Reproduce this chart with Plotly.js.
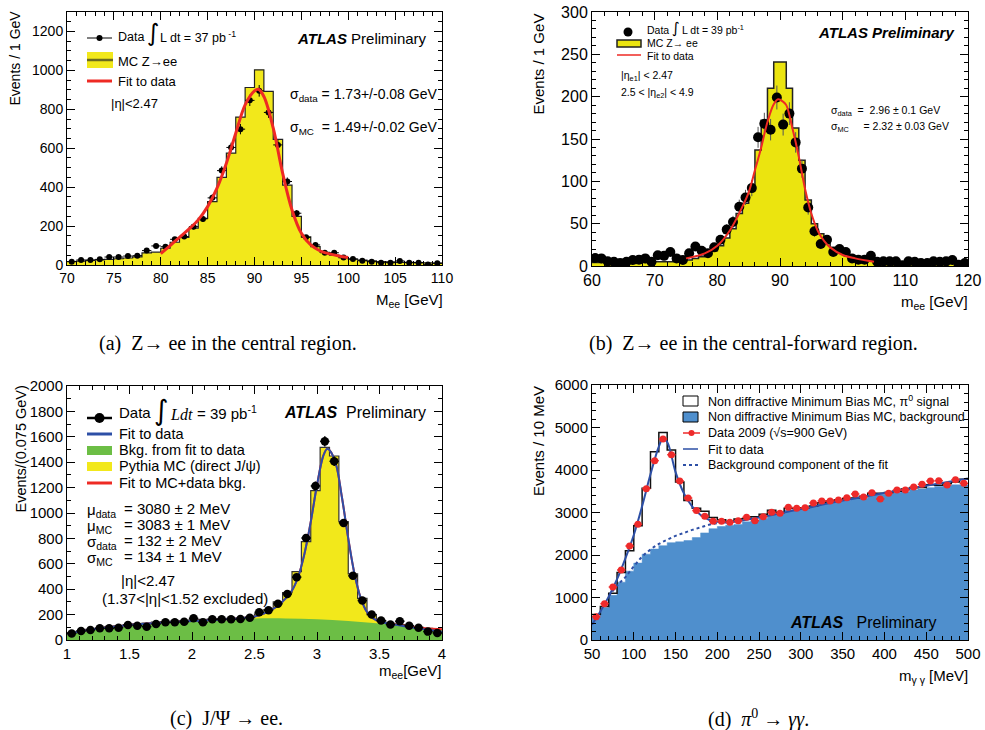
<!DOCTYPE html>
<html><head><meta charset="utf-8">
<script src="https://cdn.plot.ly/plotly-3.0.1.min.js"></script>
<style>html,body{margin:0;padding:0;background:#fff}</style>
</head><body><div id="chart" style="width:985px;height:730px"></div>
<script>
// ---------------- DATA ----------------
// (a) Z->ee central, 1 GeV bins from 70 to 110
const aBinStart = 70, aBinWidth = 1;
const aMC = [18,20,23,26,29,32,36,42,62,66, 86,117,142,189,240,326,450,575,760,912, 1003,892,645,410,250,145,94,65,51,38, 30,25,21,18,16,14,13,12,11,10];
const aData = [17,26,26,29,41,41,46,48,74,98, 94,132,146,197,237,345,485,604,698,846, 895,784,617,429,266,142,103,63,63,38, 31,22,17,12,12,21,12,12,3,9];
const aFitX = [80,81,82,83,84,85,86,87,88,89,90,90.4,91,92,93,94,95,96,97,98,99,100];
const aFitY = [58,100,142,184,232,300,395,523,677,823,895,903,866,703,472,283,163,103,72,57,46,38];

// (b) Z->ee central-forward, 1 GeV bins from 60 to 120
const bBinStart = 60, bBinWidth = 1;
const bMC = [4,4,4,3,3,3,3,4,4,4,5,5,5,6,6, 7,9,11,14,18,24,33,44,62,74,95,137,172,210,241,241,210,163,125,78,50,38,30,22,17,13,10,8,7,6,5, 4,4,4,4,3,3,3,3,3,3,3,3,3,3];
const bData = [9.4,9,5.5,5,3.5,5,7,7.5,9,5, 12.6,12,16.5,9,7,15,23,18,15,22, 31,43,52,70,81,92,152,168,161,199, 167,180,146,115,69,41,26,31,16.5,20, 16.5,9,7.5,7.5,12,5,5.5,5.5,5.5,1, 5.5,5,3.5,3.5,5.5,5,5.5,7,1.5,3.5];
const bFitX = [75,78,80,82,84,85,86,87,88,89,89.7,90.5,91,92,93,94,95,96,97,98,100,102,105];
const bFitY = [9,15,24,42,70,87,113,140,170,191,197,194,190,162,129,91,62,42,30,22,13,9,5];

// (c) J/psi->ee, 0.075 GeV bins from 1 to 4
const cBinStart = 1, cBinWidth = 0.075;
const cMCTotal = [58,71,83,94,103,112,122,128,134,140, 144,148,153,158,162,165,168,170,173,180, 205,240,300,373,538,774,1176,1517,1449,932, 520,328,200,152,132,121,110,100,92,82];
const cData = [52,71,79,92,92,97,118,113,105,126, 139,139,144,171,139,163,163,163,165,176, 218,234,285,362,495,803,1213,1564,1407,922, 505,311,201,154,122,148,112,97,66,55];
const cBkgX = [1.0,1.25,1.5,1.75,2.0,2.25,2.5,2.75,3.0,3.25,3.5,3.75,4.0];
const cBkgY = [50,90,120,140,155,165,170,170,163,150,130,105,72];
const cFitX = [1.0,1.25,1.5,1.75,2.0,2.25,2.5,2.6,2.7,2.8,2.85,2.9,2.95,3.0,3.05,3.08,3.1,3.15,3.2,3.25,3.3,3.35,3.4,3.45,3.5,3.6,3.7,3.8,3.9,4.0];
const cFitDataY = [50,90,118,135,150,162,185,220,280,390,500,680,930,1220,1450,1505,1495,1390,1120,800,520,330,220,170,145,125,108,93,78,65];
const cFitMCY   = [50,90,118,135,150,162,185,220,280,390,500,680,930,1220,1450,1505,1495,1390,1120,800,520,330,220,170,145,127,112,100,90,85];

// (d) pi0->gamma gamma, 10 MeV bins from 50 to 500
const dBinStart = 50, dBinWidth = 10;
const dMCBkg = [550,760,1050,1360,1620,1810,2020,2140,2220,2290, 2310,2340,2410,2520,2620,2670,2700,2720,2780,2800, 2860,2940,2980,3060,3075,3100,3140,3190,3240,3270, 3290,3320,3335,3410,3430,3445,3475,3490,3530,3550, 3585,3610,3625,3650,3650];
const dMCTotal = [600,790,1100,1590,2100,2690,3570,4430,4880,4470, 3720,3280,3100,3030,2880,2830,2790,2850,2860,2900, 2960,3050,3000,3100,3100,3110,3150,3230,3270,3300, 3330,3340,3380,3450,3450,3470,3500,3550,3580,3590, 3650,3640,3680,3720,3780];
const dData = [549,855,1247,1647,2212,2722,3561,4220,4730,4360, 3741,3340,3045,2910,2792,2792,2769,2808,2886,2808, 2902,3004,2980,3122,3098,3114,3224,3271,3271,3294, 3349,3435,3365,3467,3318,3451,3529,3529,3600,3663, 3741,3749,3647,3773,3686];
const dFitX = [50,60,70,80,90,100,110,120,130,135,140,150,160,170,180,190,200,210,220,250,300,350,400,450,500];
const dFitY = [360,670,1020,1430,1920,2470,3150,3900,4550,4740,4660,3950,3450,3140,2940,2830,2780,2765,2780,2880,3080,3280,3460,3630,3800];
const dBkgFitX = [70,80,90,100,110,120,130,140,150,160,170,180,190,200,210,220];
const dBkgFitY = [1020,1280,1480,1730,1960,2130,2260,2360,2450,2520,2590,2650,2710,2750,2765,2780];

// ---------------- HELPERS ----------------
const W = 985, H = 730;
function centers(start, width, n){ const c=[]; for(let i=0;i<n;i++) c.push(start+(i+0.5)*width); return c; }
function step(start, width, vals){ const x=[], y=[]; for(let i=0;i<vals.length;i++){ x.push(start+i*width); y.push(vals[i]); } x.push(start+vals.length*width); y.push(vals[vals.length-1]); return {x, y}; }
const PX = v => v / W, PY = v => 1 - v / H;

const YELLOW = '#f2e81b', RED = '#ee2a24', GREEN = '#6cbe45', FITBLUE = '#2d4fa6', FILLBLUE = '#4f8fcd';
const FONT = 'Liberation Sans, Arial, Helvetica, sans-serif';
const SERIF = 'Liberation Serif, Times New Roman, serif';

const traces = [];
// (a)
const aS = step(aBinStart, aBinWidth, aMC);
traces.push({x:aS.x, y:aS.y, type:'scatter', mode:'lines', line:{shape:'hv', color:'#222', width:1.2}, fill:'tozeroy', fillcolor:YELLOW, xaxis:'x', yaxis:'y'});
traces.push({x:centers(aBinStart,aBinWidth,aData.length), y:aData, type:'scatter', mode:'markers', marker:{size:6,color:'#000'},
  error_y:{type:'sqrt', thickness:1, width:0, color:'#000'}, error_x:{type:'constant', value:aBinWidth/2, thickness:1, width:0, color:'#000'}, xaxis:'x', yaxis:'y'});
traces.push({x:aFitX, y:aFitY, type:'scatter', mode:'lines', line:{shape:'spline', color:RED, width:3}, xaxis:'x', yaxis:'y'});
// (b)
const bS = step(bBinStart, bBinWidth, bMC);
traces.push({x:bS.x, y:bS.y, type:'scatter', mode:'lines', line:{shape:'hv', color:'#222', width:1.5}, fill:'tozeroy', fillcolor:'#ebe40f', xaxis:'x2', yaxis:'y2'});
traces.push({x:centers(bBinStart,bBinWidth,bData.length), y:bData, type:'scatter', mode:'markers', marker:{size:10,color:'#000'},
  error_y:{type:'sqrt', thickness:1, width:0, color:'#555'}, xaxis:'x2', yaxis:'y2'});
traces.push({x:bFitX, y:bFitY, type:'scatter', mode:'lines', line:{shape:'spline', color:RED, width:2}, xaxis:'x2', yaxis:'y2'});
// (c)
const cS = step(cBinStart, cBinWidth, cMCTotal);
traces.push({x:cS.x, y:cS.y, type:'scatter', mode:'lines', line:{shape:'hv', width:0, color:YELLOW}, fill:'tozeroy', fillcolor:YELLOW, xaxis:'x3', yaxis:'y3'});
traces.push({x:cBkgX, y:cBkgY, type:'scatter', mode:'lines', line:{shape:'spline', width:0, color:GREEN}, fill:'tozeroy', fillcolor:GREEN, xaxis:'x3', yaxis:'y3'});
traces.push({x:cS.x, y:cS.y, type:'scatter', mode:'lines', line:{shape:'hv', width:1.2, color:'#333'}, xaxis:'x3', yaxis:'y3'});
traces.push({x:cFitX, y:cFitMCY, type:'scatter', mode:'lines', line:{shape:'spline', color:RED, width:2}, xaxis:'x3', yaxis:'y3'});
traces.push({x:cFitX, y:cFitDataY, type:'scatter', mode:'lines', line:{shape:'spline', color:FITBLUE, width:2}, xaxis:'x3', yaxis:'y3'});
traces.push({x:centers(cBinStart,cBinWidth,cData.length), y:cData, type:'scatter', mode:'markers', marker:{size:8.5,color:'#000'},
  error_y:{type:'sqrt', thickness:1.5, width:0, color:'#000'}, error_x:{type:'constant', value:cBinWidth/2, thickness:1.5, width:0, color:'#000'}, xaxis:'x3', yaxis:'y3'});
// (d)
const dB = step(dBinStart, dBinWidth, dMCBkg);
const dT = step(dBinStart, dBinWidth, dMCTotal);
traces.push({x:dB.x, y:dB.y, type:'scatter', mode:'lines', line:{shape:'hv', width:0.5, color:FILLBLUE}, fill:'tozeroy', fillcolor:FILLBLUE, xaxis:'x4', yaxis:'y4'});
traces.push({x:dT.x, y:dT.y, type:'scatter', mode:'lines', line:{shape:'hv', width:1.5, color:'#111'}, xaxis:'x4', yaxis:'y4'});
traces.push({x:dBkgFitX, y:dBkgFitY, type:'scatter', mode:'lines', line:{shape:'spline', color:FITBLUE, width:2, dash:'dot'}, xaxis:'x4', yaxis:'y4'});
traces.push({x:dFitX, y:dFitY, type:'scatter', mode:'lines', line:{shape:'spline', color:FITBLUE, width:2}, xaxis:'x4', yaxis:'y4'});
traces.push({x:centers(dBinStart,dBinWidth,dData.length), y:dData, type:'scatter', mode:'markers', marker:{size:7,color:'#ee2a2a'},
  error_y:{type:'sqrt', thickness:1.2, width:0, color:'#ee2a2a'}, error_x:{type:'constant', value:dBinWidth/2, thickness:1.5, width:0, color:'#ee2a2a'}, xaxis:'x4', yaxis:'y4'});

traces.forEach(t => { t.showlegend = false; t.hoverinfo = 'skip'; });

// ---------------- AXES ----------------
function axis(domain, anchor, range, dtick, minor, fsize){
  return {domain, anchor, range, dtick, tick0: range[0], autorange:false,
    showline:true, linecolor:'#000', linewidth:1, mirror:'allticks', ticks:'inside', ticklen:8, tickwidth:1, tickcolor:'#000',
    showgrid:false, zeroline:false, tickfont:{family:FONT, size:fsize, color:'#000'},
    minor:{ticks:'inside', ticklen:4, dtick:minor, tick0:range[0], tickcolor:'#000', tickwidth:1, showgrid:false}};
}
const layout = {
  width:W, height:H, autosize:false, margin:{l:0,r:0,t:0,b:0}, paper_bgcolor:'#fff', plot_bgcolor:'#fff', showlegend:false,
  font:{family:FONT, color:'#000'},
  xaxis:  axis([67/W,442/W], 'y',  [70,110], 5, 1, 14),
  yaxis:  axis([1-265/H,1-12/H], 'x', [0,1300], 200, 50, 14),
  xaxis2: axis([592/W,968/W], 'y2', [60,120], 10, 2, 16),
  yaxis2: axis([1-266/H,1-12/H], 'x2', [0,300], 50, 10, 16),
  xaxis3: axis([67/W,442/W], 'y3', [1,4], 0.5, 0.1, 15),
  yaxis3: axis([1-640/H,1-386/H], 'x3', [0,2000], 200, 100, 15),
  xaxis4: axis([592/W,968/W], 'y4', [50,500], 50, 10, 15),
  yaxis4: axis([1-640/H,1-385/H], 'x4', [0,6000], 1000, 200, 15),
  annotations: [], shapes: []
};

function txt(text, x, y, opt){
  opt = opt || {};
  layout.annotations.push({text, x:PX(x), y:PY(y), xref:'paper', yref:'paper', showarrow:false,
    xanchor:opt.xa||'left', yanchor:opt.ya||'middle', textangle:opt.angle||0, borderpad:0,
    font:{family:opt.family||FONT, size:opt.size||13, color:opt.color||'#000'}});
}
function hline(x0,x1,y,color,width,dash){ layout.shapes.push({type:'line', xref:'paper', yref:'paper', x0:PX(x0), x1:PX(x1), y0:PY(y), y1:PY(y), line:{color, width, dash:dash||'solid'}}); }
function rect(x0,y0,x1,y1,fill,lineColor,lw){ layout.shapes.push({type:'rect', xref:'paper', yref:'paper', x0:PX(x0), x1:PX(x1), y0:PY(y1), y1:PY(y0), fillcolor:fill, line:{color:lineColor||fill, width:lw||0}}); }
function dot(cx,cy,r,color){ layout.shapes.push({type:'circle', xref:'paper', yref:'paper', x0:PX(cx-r), x1:PX(cx+r), y0:PY(cy+r), y1:PY(cy-r), fillcolor:color, line:{color, width:0}}); }

// ----- panel (a) decorations -----
hline(87,112,38,'#000',1); dot(99.5,38,3,'#000');
txt('Data', 117, 37, {size:12.5});
txt('∫', 153, 33, {size:24, xa:'center', family:'DejaVu Sans'});
txt('L dt = 37 pb<sup> -1</sup>', 159, 37, {size:12.5});
rect(87,52,113,68,YELLOW); hline(87,113,60,'#6b6b1f',2.5);
txt('MC Z→ee', 117, 62, {size:13});
hline(87,112,81,RED,3);
txt('Fit to data', 117, 82, {size:13});
txt('|η|<2.47', 110, 103, {size:13});
txt('<b><i>ATLAS</i></b> Preliminary', 428, 38, {size:15, xa:'right'});
txt('σ<sub>data</sub> = 1.73+/-0.08 GeV', 289, 95, {size:14});
txt('σ<sub>MC</sub>  = 1.49+/-0.02 GeV', 289, 128, {size:14});
txt('Events / 1 GeV', 14, 10, {size:14, angle:-90, xa:'center', ya:'top'});
txt('M<sub>ee</sub> [GeV]', 444, 300, {size:15, xa:'right'});

// ----- panel (b) decorations -----
dot(628,32,4.5,'#000');
txt('Data', 646, 30, {size:10.5});
txt('∫', 676, 28, {size:15, xa:'center', family:'DejaVu Sans'});
txt('L dt = 39 pb<sup>-1</sup>', 681, 30, {size:10.5});
rect(617,40,641,47,'#ebe40f','#222',1.5);
txt('MC Z→ ee', 646, 43.5, {size:10.5});
hline(617,641,55,RED,1.5);
txt('Fit to data', 646, 56, {size:10.5});
txt('|η<sub>e1</sub>| < 2.47', 620, 76, {size:10.5});
txt('2.5 < |η<sub>e2</sub>| < 4.9', 620, 93, {size:10.5});
txt('<b><i>ATLAS Preliminary</i></b>', 955, 32, {size:15, xa:'right'});
txt('σ<sub>data</sub>  =  2.96 ± 0.1 GeV', 830, 111, {size:10.5});
txt('σ<sub>MC</sub>     = 2.32 ± 0.03 GeV', 830, 127, {size:10.5});
txt('Events / 1 GeV', 538, 13, {size:15, angle:-90, xa:'center', ya:'top'});
txt('m<sub>ee</sub> [GeV]', 969, 302, {size:15, xa:'right'});

// ----- panel (c) decorations -----
hline(87,112,418,'#000',2.5); dot(99.5,418,5,'#000');
txt('Data', 118, 413, {size:15});
txt('∫', 161, 410, {size:28, xa:'center', family:'DejaVu Sans'});
txt('<i>Ldt</i>', 169, 414, {size:16, family:SERIF});
txt('= 39 pb<sup>-1</sup>', 196, 413, {size:15});
hline(87,112,434,FITBLUE,3);
txt('Fit to data', 118, 434, {size:14.5});
rect(87,446,112,455,GREEN);
txt('Bkg. from fit to data', 118, 450, {size:14.5});
rect(87,462,112,471,YELLOW);
txt('Pythia MC (direct J/ψ)', 118, 466, {size:14.5});
hline(87,112,483,RED,3);
txt('Fit to MC+data bkg.', 118, 483, {size:14.5});
txt('μ<sub>data</sub>', 86, 510, {size:15});
txt('= 3080 ± 2 MeV', 123, 508, {size:15});
txt('μ<sub>MC</sub>', 86, 526, {size:15});
txt('= 3083 ± 1 MeV', 123, 524, {size:15});
txt('σ<sub>data</sub>', 86, 542, {size:15});
txt('= 132 ± 2 MeV', 123, 540, {size:15});
txt('σ<sub>MC</sub>', 86, 558, {size:15});
txt('= 134 ± 1 MeV', 123, 556, {size:15});
txt('|η|<2.47', 120, 580, {size:15});
txt('(1.37<|η|<1.52 excluded)', 101, 598, {size:15});
txt('<b><i>ATLAS</i></b>  Preliminary', 427, 412, {size:16, xa:'right'});
txt('Events/(0.075 GeV)', 20, 385, {size:14.5, angle:-90, xa:'center', ya:'top'});
txt('m<sub>ee</sub>[GeV]', 443, 671, {size:15, xa:'right'});

// ----- panel (d) decorations -----
rect(683,396,698,406,'#fff','#000',1);
txt('Non diffractive Minimum Bias MC, π<sup>0</sup> signal', 707, 401, {size:12.5});
rect(683,412,698,422,FILLBLUE,'#000',1);
txt('Non diffractive Minimum Bias MC, background', 707, 417, {size:12.5});
hline(683,700,433,'#ee2a2a',1.5); dot(691.5,433,3,'#ee2a2a');
txt('Data 2009 (√s=900 GeV)', 707, 433, {size:12.5});
hline(683,698,449,FITBLUE,1.5);
txt('Fit to data', 707, 450, {size:12.5});
hline(683,698,465,FITBLUE,2,'dot');
txt('Background component of the fit', 707, 465, {size:12.5});
txt('<b><i>ATLAS</i></b>   Preliminary', 938, 622, {size:16, xa:'right'});
txt('Events / 10 MeV', 538, 385, {size:15, angle:-90, xa:'center', ya:'top'});
txt('m<sub>γ γ</sub> [MeV]', 969, 676, {size:15, xa:'right'});

// ----- captions -----
txt('(a)&nbsp;&nbsp;Z→ ee in the central region.', 228, 343, {size:20, xa:'center', family:SERIF});
txt('(b)&nbsp;&nbsp;Z→ ee in the central-forward region.', 753, 343, {size:20, xa:'center', family:SERIF});
txt('(c)&nbsp;&nbsp;J/Ψ → ee.', 226, 718, {size:20, xa:'center', family:SERIF});
txt('(d)&nbsp;&nbsp;<i>π</i><sup>0</sup> → <i>γγ</i>.', 758, 718, {size:20, xa:'center', family:SERIF});

Plotly.newPlot('chart', traces, layout, {staticPlot:true, displayModeBar:false});
</script></body></html>
